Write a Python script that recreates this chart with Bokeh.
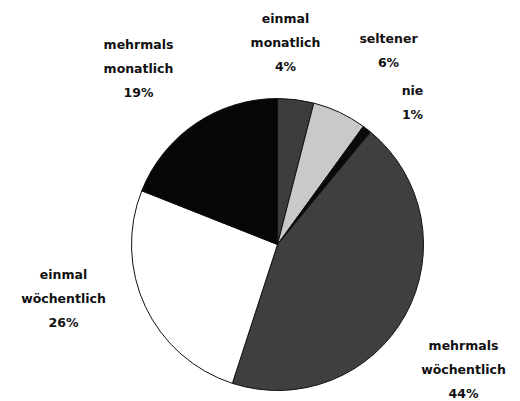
import numpy as np
from bokeh.plotting import figure
from bokeh.models import Range1d, ColumnDataSource
from bokeh.core.properties import value
from bokeh.embed import file_html
from bokeh.resources import INLINE

# data
categories = ["einmal\nmonatlich", "seltener", "nie", "mehrmals\nwöchentlich",
              "einmal\nwöchentlich", "mehrmals\nmonatlich"]
percent = [4, 6, 1, 44, 26, 19]
colors = ["#3d3d3d", "#c9c9c9", "#0a0a0a", "#3f3f3f", "#ffffff", "#060606"]

# layout (pixel coordinates, y from top = vertical centre of each label block)
W, H = 520, 401
cx, cy, r = 277, 244, 146
label_pos = [(285, 42), (388, 50), (412, 102), (463, 369), (63, 298), (138, 68)]

vals = np.array(percent, dtype=float)
frac = vals / vals.sum()
cum = np.concatenate([[0], np.cumsum(frac)])
start = np.pi / 2 - cum[:-1] * 2 * np.pi
end = np.pi / 2 - cum[1:] * 2 * np.pi

p = figure(width=W, height=H, output_backend="svg", toolbar_location=None,
           x_range=Range1d(0, W), y_range=Range1d(0, H), min_border=0)
p.axis.visible = False
p.grid.visible = False
p.outline_line_color = None
p.background_fill_color = "white"
p.border_fill_color = "white"

src = ColumnDataSource(dict(x=[cx] * len(vals), y=[H - cy] * len(vals),
                            start=start, end=end, color=colors))
p.wedge(x="x", y="y", radius=r, start_angle="start", end_angle="end",
        direction="clock", fill_color="color", line_color="#111111",
        line_width=1, source=src)

texts = [c + "\n" + f"{v}%" for c, v in zip(categories, percent)]
lx = [pp[0] for pp in label_pos]
ly = [H - pp[1] for pp in label_pos]
p.text(x=lx, y=ly, text=texts, text_align="center", text_baseline="middle",
       text_font=value("DejaVu Sans"), text_font_style="bold",
       text_font_size="12.5px", text_line_height=1.6, text_color="#111111")

open("out.html", "w").write(file_html(p, INLINE))
